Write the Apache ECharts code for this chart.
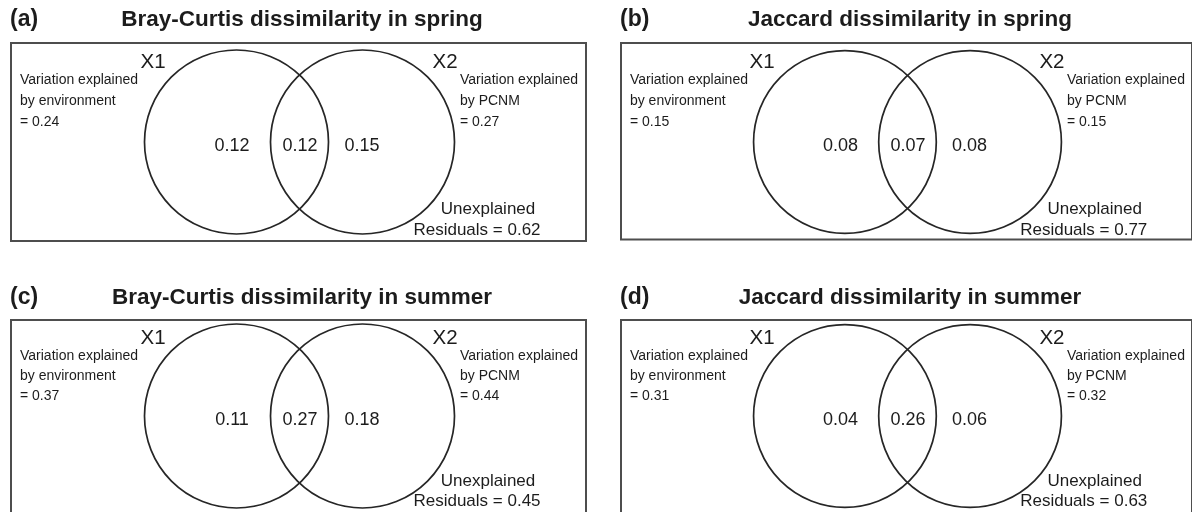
<!DOCTYPE html>
<html>
<head>
<meta charset="utf-8">
<script src="https://cdn.jsdelivr.net/npm/echarts@6/dist/echarts.min.js"></script>
<style>
  html, body { margin: 0; padding: 0; background: #fff; }
  #chart { width: 1192px; height: 512px; }
</style>
</head>
<body>
<div id="chart"></div>
<script>
// Variation partitioning of community dissimilarity (environment X1 vs PCNM X2)
const panelTags = ['(a)', '(b)', '(c)', '(d)'];
const panelTitles = [
  'Bray-Curtis dissimilarity in spring',
  'Jaccard dissimilarity in spring',
  'Bray-Curtis dissimilarity in summer',
  'Jaccard dissimilarity in summer'
];
const envExplained = [0.24, 0.15, 0.37, 0.31];   // total explained by environment (X1)
const pcnmExplained = [0.27, 0.15, 0.44, 0.32];  // total explained by PCNM (X2)
const envOnly = [0.12, 0.08, 0.11, 0.04];        // pure environment fraction
const sharedPart = [0.12, 0.07, 0.27, 0.26];     // shared fraction
const pcnmOnly = [0.15, 0.08, 0.18, 0.06];       // pure PCNM fraction
const residuals = [0.62, 0.77, 0.45, 0.63];      // unexplained

// Panel frame in local units (one unit = one pixel of the frame)
const FRAME_W = 575, FRAME_H = 198;
const colLeft = [11, 621];
const rowTop = [43, 320];

const FONT = "'Liberation Sans', Arial, sans-serif";
const INK = '#1c1c1c';

const fmt = v => v.toFixed(2);

function renderPanel(p) {
  return function (params, api) {
    const pt = (x, y) => api.coord([x, y]);
    const unit = api.size([1, 1])[0];
    const o = pt(0, 0);
    const c1 = pt(225.5, 99);
    const c2 = pt(351.5, 99);
    const txt = (s, x, y, size, align, weight) => {
      const q = pt(x, y);
      return {
        type: 'text',
        style: {
          text: s, x: q[0], y: q[1],
          fontFamily: FONT, fontSize: size, fontWeight: weight || 'normal',
          align: align, verticalAlign: 'middle', fill: INK
        }
      };
    };
    return {
      type: 'group',
      children: [
        { type: 'rect', shape: { x: o[0], y: o[1], width: FRAME_W * unit, height: FRAME_H * unit },
          style: { fill: null, stroke: '#4e4e4e', lineWidth: 2 } },
        { type: 'circle', shape: { cx: c1[0], cy: c1[1], r: 92 * unit },
          style: { fill: null, stroke: '#262626', lineWidth: 1.7 } },
        { type: 'circle', shape: { cx: c2[0], cy: c2[1], r: 92 * unit },
          style: { fill: null, stroke: '#262626', lineWidth: 1.7 } },
        txt(panelTags[p], -1, -23, 23, 'left', 'bold'),
        txt(panelTitles[p], 291, -23, 22.5, 'center', 'bold'),
        txt('X1', 142, 19, 20.5, 'center'),
        txt('X2', 434, 19, 20.5, 'center'),
        txt('Variation explained', 9, 37, 14, 'left'),
        txt('by environment', 9, 58, 14, 'left'),
        txt('= ' + fmt(envExplained[p]), 9, 79, 14, 'left'),
        txt('Variation explained', 449, 37, 14, 'left'),
        txt('by PCNM', 449, 58, 14, 'left'),
        txt('= ' + fmt(pcnmExplained[p]), 449, 79, 14, 'left'),
        txt(fmt(envOnly[p]), 221, 103, 18, 'center'),
        txt(fmt(sharedPart[p]), 289, 103, 18, 'center'),
        txt(fmt(pcnmOnly[p]), 351, 103, 18, 'center'),
        txt('Unexplained', 477, 166, 17, 'center'),
        txt('Residuals = ' + fmt(residuals[p]), 466, 187, 17, 'center')
      ]
    };
  };
}

const grids = [], xAxes = [], yAxes = [], series = [];
for (let p = 0; p < 4; p++) {
  const col = p % 2, row = Math.floor(p / 2);
  grids.push({ left: colLeft[col], top: rowTop[row], width: FRAME_W, height: FRAME_H, show: false });
  xAxes.push({ type: 'value', gridIndex: p, min: 0, max: FRAME_W, show: false });
  yAxes.push({ type: 'value', gridIndex: p, min: 0, max: FRAME_H, inverse: true, show: false });
  series.push({
    type: 'custom',
    xAxisIndex: p, yAxisIndex: p,
    clip: false,
    silent: true,
    data: [[0, 0]],
    renderItem: renderPanel(p)
  });
}

const chart = echarts.init(document.getElementById('chart'), null, { renderer: 'canvas' });
chart.setOption({
  backgroundColor: '#ffffff',
  animation: false,
  grid: grids,
  xAxis: xAxes,
  yAxis: yAxes,
  series: series
});
</script>
</body>
</html>
